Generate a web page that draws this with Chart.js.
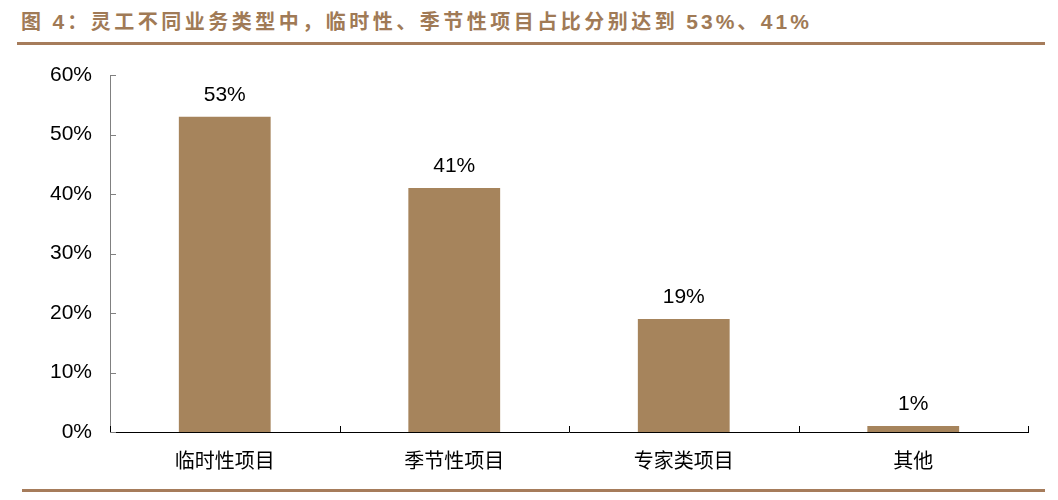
<!DOCTYPE html>
<html>
<head>
<meta charset="utf-8">
<script src="https://cdn.jsdelivr.net/npm/chart.js@4.4.1/dist/chart.umd.min.js"></script>
<style>
  html, body { margin: 0; padding: 0; background: #fff; }
  #wrap { position: relative; width: 1058px; height: 500px; overflow: hidden; }
  #title {
    position: absolute; left: 21px; top: 6px;
    font-family: "Noto Sans CJK SC", sans-serif; font-weight: bold;
    font-size: 20px; color: #A07A56; letter-spacing: 3.5px; white-space: nowrap;
  }
  #title .lat { font-family: "Liberation Sans", Arial, sans-serif; font-size: 21px; letter-spacing: 3px; }
  .rule { position: absolute; height: 3px; background: #A67C5B; }
  #chartBox { position: absolute; left: 0; top: 0; width: 1058px; height: 500px; }
</style>
</head>
<body>
<div id="wrap">
  <div id="title">图 <span class="lat">4</span>：灵工不同业务类型中，临时性、季节性项目占比分别达到 <span class="lat">53%</span>、<span class="lat">41%</span></div>
  <div class="rule" style="left:17px; top:42px; width:1028px;"></div>
  <div class="rule" style="left:22px; top:489px; width:1023px;"></div>
  <div id="chartBox"><canvas id="barChart"></canvas></div>
</div>
<script>
const categories = ['临时性项目', '季节性项目', '专家类项目', '其他'];
const shares = [53, 41, 19, 1];
const yTicks = [0, 10, 20, 30, 40, 50, 60];

const barColor = '#A6845C';

// ticks pointing into the plot, plus value labels above bars
const extras = {
  id: 'extras',
  afterDatasetsDraw(chart) {
    const { ctx, scales: { x, y }, chartArea } = chart;
    ctx.save();
    ctx.lineWidth = 1;
    // y ticks
    ctx.strokeStyle = '#808080';
    yTicks.forEach(v => {
      const py = Math.round(y.getPixelForValue(v)) + 0.5;
      ctx.beginPath();
      ctx.moveTo(chartArea.left, py);
      ctx.lineTo(chartArea.left + 6, py);
      ctx.stroke();
    });
    // x boundary ticks
    ctx.strokeStyle = '#000';
    for (let i = 0; i <= categories.length; i++) {
      const px = Math.round(x.getPixelForValue(i - 0.5)) + 0.5;
      ctx.beginPath();
      ctx.moveTo(px, chartArea.bottom);
      ctx.lineTo(px, chartArea.bottom - 6);
      ctx.stroke();
    }
    // value labels
    ctx.fillStyle = '#000';
    ctx.font = '21px "Liberation Sans", Arial, sans-serif';
    ctx.textAlign = 'center';
    ctx.textBaseline = 'alphabetic';
    chart.getDatasetMeta(0).data.forEach((bar, i) => {
      ctx.fillText(shares[i] + '%', bar.x, bar.y - 16);
    });
    ctx.restore();
  }
};

new Chart(document.getElementById('barChart').getContext('2d'), {
  type: 'bar',
  data: {
    labels: categories,
    datasets: [{
      data: shares,
      backgroundColor: barColor,
      borderWidth: 0,
      categoryPercentage: 1,
      barPercentage: 0.4
    }]
  },
  options: {
    responsive: true,
    maintainAspectRatio: false,
    animation: false,
    layout: { padding: { top: 75, right: 30, bottom: 0, left: 0 } },
    plugins: { legend: { display: false }, tooltip: { enabled: false } },
    scales: {
      x: {
        grid: { display: false, drawTicks: false },
        border: { color: '#000', width: 1 },
        ticks: {
          color: '#000', padding: 16,
          font: { family: '"Noto Sans CJK SC", sans-serif', size: 20 }
        },
        afterFit: s => { s.height = 68; }
      },
      y: {
        min: 0, max: 60,
        grid: { display: false, drawTicks: false },
        border: { color: '#808080', width: 1 },
        ticks: {
          stepSize: 10, color: '#000', padding: 18,
          font: { family: '"Liberation Sans", Arial, sans-serif', size: 21 },
          callback: v => v + '%'
        },
        afterFit: s => { s.width = 110; }
      }
    }
  },
  plugins: [extras]
});
</script>
</body>
</html>
